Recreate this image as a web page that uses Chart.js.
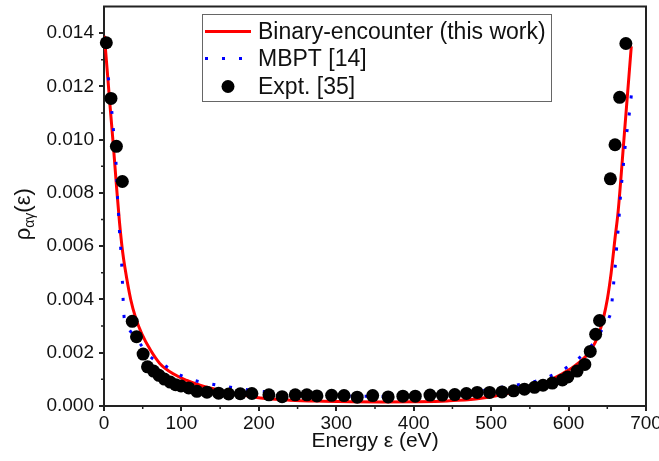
<!DOCTYPE html>
<html>
<head>
<meta charset="utf-8">
<script src="https://cdn.jsdelivr.net/npm/chart.js@4.4.1/dist/chart.umd.min.js"></script>
<style>
  html, body { margin: 0; padding: 0; background: #fff; }
  #chart { display: block; }
</style>
</head>
<body>
<canvas id="chart" width="659" height="461"></canvas>
<script>
// Binary-encounter (this work) - red solid
const beEnergy = [0.5, 4, 8, 12, 16, 20, 24, 27, 34.5, 41, 49, 60, 72, 90, 107, 124, 150, 175, 202, 240,
  283, 320, 360, 400, 443, 480, 510, 538, 564, 590, 607, 620, 629, 639, 645, 650, 655, 660, 664, 672, 681];
const beRho = [0.0139, 0.01265, 0.0112, 0.0098, 0.0083, 0.0069, 0.0058, 0.0052, 0.0040, 0.0033, 0.0027, 0.0021,
  0.0016, 0.0012, 0.00096, 0.00078, 0.00058, 0.00043, 0.0003, 0.00022, 0.00018, 0.00016, 0.00015, 0.00016,
  0.00019, 0.00026, 0.0004, 0.00059, 0.00081, 0.00118, 0.00148, 0.0018, 0.0021, 0.0027, 0.0033, 0.004, 0.005,
  0.0063, 0.0073, 0.0102, 0.0135];

// MBPT [14] - blue dotted
const mbEnergy = [5.6, 10, 12, 15.5, 17.5, 18.8, 20, 21.6, 22.9, 23.8, 24.7, 25.9, 28, 33, 40, 49, 60, 78, 100,
  122, 144, 166, 200, 250, 318, 360, 400, 450, 490, 521, 543, 566, 588, 609, 631, 645, 652, 655, 657, 659, 661,
  662.5, 664.5, 666, 667.5, 669.7, 671.8, 674, 677, 679.6, 682];
const mbRho = [0.01234, 0.01109, 0.01042, 0.00913, 0.0078, 0.0072, 0.00656, 0.00592, 0.00529, 0.00465, 0.004,
  0.00336, 0.0031, 0.00285, 0.0026, 0.00225, 0.00185, 0.00153, 0.00114, 0.00092, 0.0008, 0.00069, 0.00056,
  0.00046, 0.00038, 0.00036, 0.00038, 0.00045, 0.00058, 0.00074, 0.00084, 0.00101, 0.00128, 0.00169, 0.00232,
  0.00295, 0.0033, 0.0036, 0.00421, 0.00486, 0.0055, 0.00614, 0.00678, 0.00744, 0.00806, 0.00871, 0.00936,
  0.01, 0.01065, 0.01127, 0.01194];

// Expt. [35] - black dots
const exEnergy = [3, 9, 16, 23.7, 36.5, 42, 50.5, 56.2, 64, 71, 78, 85.5, 92.5, 99.5, 109.5, 120, 133, 148, 161,
  176, 191, 213, 230, 247, 262, 275, 294, 310, 327, 347, 367, 386, 402, 421, 437, 453, 468, 482, 498, 514, 529,
  543, 556, 567, 579, 592, 599, 611, 621, 628, 635, 640, 654, 660, 666, 674];
const exRho = [0.01364, 0.01155, 0.00975, 0.00843, 0.00318, 0.0026, 0.00195, 0.00147, 0.00131, 0.00115, 0.00101,
  0.0009, 0.0008, 0.00075, 0.00068, 0.00055, 0.00052, 0.00048, 0.00045, 0.00046, 0.00047, 0.00042, 0.00035,
  0.00042, 0.00042, 0.00038, 0.0004, 0.00039, 0.00033, 0.00039, 0.00034, 0.00037, 0.00037, 0.00041, 0.00041,
  0.00043, 0.00047, 0.00051, 0.00051, 0.00053, 0.00057, 0.00063, 0.0007, 0.00078, 0.00086, 0.00098, 0.00109,
  0.00131, 0.00156, 0.00205, 0.00269, 0.00321, 0.00853, 0.00981, 0.01159, 0.01361];

const seriesNames = ["Binary-encounter (this work)", "MBPT [14]", "Expt. [35]"];

const xTicks = [0, 100, 200, 300, 400, 500, 600, 700];
const xMinor = [50, 150, 250, 350, 450, 550, 650];
const yTicks = [0, 0.002, 0.004, 0.006, 0.008, 0.010, 0.012, 0.014];
const yMinor = [0.001, 0.003, 0.005, 0.007, 0.009, 0.011, 0.013];

const FONT = "'Liberation Sans', Arial, sans-serif";
const AXIS = "#222";
const TEXT = "#111";

const toPoints = (xs, ys) => xs.map((x, i) => ({ x: x, y: ys[i] }));

// frame, minor ticks, y title with subscript, boxed legend
const extras = {
  id: "extras",
  afterDraw(chart) {
    const { ctx, chartArea: a, scales } = chart;
    ctx.save();

    ctx.strokeStyle = AXIS;
    ctx.lineWidth = 2;
    ctx.beginPath();
    ctx.moveTo(a.left - 1, a.top);
    ctx.lineTo(a.right, a.top);
    ctx.lineTo(a.right, a.bottom + 1);
    ctx.stroke();

    ctx.lineWidth = 1.5;
    ctx.beginPath();
    xMinor.forEach(v => {
      const px = scales.x.getPixelForValue(v);
      ctx.moveTo(px, a.bottom);
      ctx.lineTo(px, a.bottom + 3);
    });
    yMinor.forEach(v => {
      const py = scales.y.getPixelForValue(v);
      ctx.moveTo(a.left, py);
      ctx.lineTo(a.left - 3, py);
    });
    ctx.stroke();

    // y axis title: rho_{alpha gamma}(epsilon)
    ctx.fillStyle = TEXT;
    ctx.textBaseline = "alphabetic";
    ctx.textAlign = "left";
    const big = "22px " + FONT, small = "14px " + FONT;
    ctx.font = big;
    const w1 = ctx.measureText("ρ").width, w3 = ctx.measureText("(ε)").width;
    ctx.font = small;
    const w2 = ctx.measureText("αγ").width;
    const total = w1 + w2 + w3;
    ctx.save();
    ctx.translate(30, (a.top + a.bottom) / 2 + 8);
    ctx.rotate(-Math.PI / 2);
    let x0 = -total / 2;
    ctx.font = big;
    ctx.fillText("ρ", x0, 0);
    ctx.font = small;
    ctx.fillText("αγ", x0 + w1, 4);
    ctx.font = big;
    ctx.fillText("(ε)", x0 + w1 + w2, 0);
    ctx.restore();

    // legend
    ctx.strokeStyle = "#666";
    ctx.lineWidth = 1;
    ctx.strokeRect(202.5, 14.5, 349, 87);
    const rows = [31.5, 58.5, 86.5];
    ctx.font = "23px " + FONT;
    ctx.textBaseline = "middle";
    chart.data.datasets.forEach((ds, i) => {
      const y = rows[i];
      if (ds.showLine) {
        ctx.strokeStyle = ds.borderColor;
        ctx.lineWidth = ds.borderWidth;
        ctx.setLineDash(ds.borderDash || []);
        ctx.beginPath();
        ctx.moveTo(205, y);
        ctx.lineTo(251, y);
        ctx.stroke();
        ctx.setLineDash([]);
      } else {
        ctx.fillStyle = ds.pointBackgroundColor;
        ctx.beginPath();
        ctx.arc(228, y, ds.pointRadius, 0, Math.PI * 2);
        ctx.fill();
      }
      ctx.fillStyle = TEXT;
      ctx.fillText(ds.label, 258, y + 1);
    });
    ctx.restore();
  }
};

const grid = {
  drawOnChartArea: false,
  tickLength: 5,
  tickWidth: 2,
  tickColor: AXIS,
  color: AXIS,
  lineWidth: 2
};

new Chart(document.getElementById("chart"), {
  type: "scatter",
  data: {
    datasets: [
      {
        label: seriesNames[0],
        data: toPoints(beEnergy, beRho),
        showLine: true,
        borderColor: "#ff0000",
        borderWidth: 3,
        pointRadius: 0,
        cubicInterpolationMode: "monotone",
        order: 3
      },
      {
        label: seriesNames[1],
        data: toPoints(mbEnergy, mbRho),
        showLine: true,
        borderColor: "#0000ff",
        borderWidth: 3,
        borderDash: [3, 14],
        pointRadius: 0,
        cubicInterpolationMode: "monotone",
        order: 2
      },
      {
        label: seriesNames[2],
        data: toPoints(exEnergy, exRho),
        showLine: false,
        pointRadius: 6.5,
        pointBackgroundColor: "#000",
        pointBorderColor: "#000",
        pointBorderWidth: 0,
        clip: false,
        order: 1
      }
    ]
  },
  options: {
    responsive: false,
    animation: false,
    devicePixelRatio: 1,
    layout: { padding: { top: 6, right: 13, bottom: 0, left: 0 } },
    plugins: { legend: { display: false }, tooltip: { enabled: false } },
    scales: {
      x: {
        type: "linear",
        min: 0,
        max: 700,
        afterBuildTicks: s => { s.ticks = xTicks.map(v => ({ value: v })); },
        afterFit: s => { s.height = 55; s.paddingLeft = 0; s.paddingRight = 0; },
        ticks: { font: { family: FONT, size: 19 }, color: TEXT, padding: 1, maxRotation: 0, autoSkip: false },
        grid: grid,
        border: { color: AXIS, width: 2 },
        title: {
          display: true,
          text: "Energy ε (eV)",
          font: { family: FONT, size: 21 },
          color: TEXT,
          padding: { top: 0, bottom: 7 }
        }
      },
      y: {
        type: "linear",
        min: 0,
        max: 0.015,
        afterBuildTicks: s => { s.ticks = yTicks.map(v => ({ value: v })); },
        afterFit: s => { s.width = 104; s.paddingTop = 0; s.paddingBottom = 0; },
        ticks: {
          font: { family: FONT, size: 19 },
          color: TEXT,
          padding: 5,
          callback: v => Number(v).toFixed(3)
        },
        grid: grid,
        border: { color: AXIS, width: 2 }
      }
    }
  },
  plugins: [extras]
});
</script>
</body>
</html>
